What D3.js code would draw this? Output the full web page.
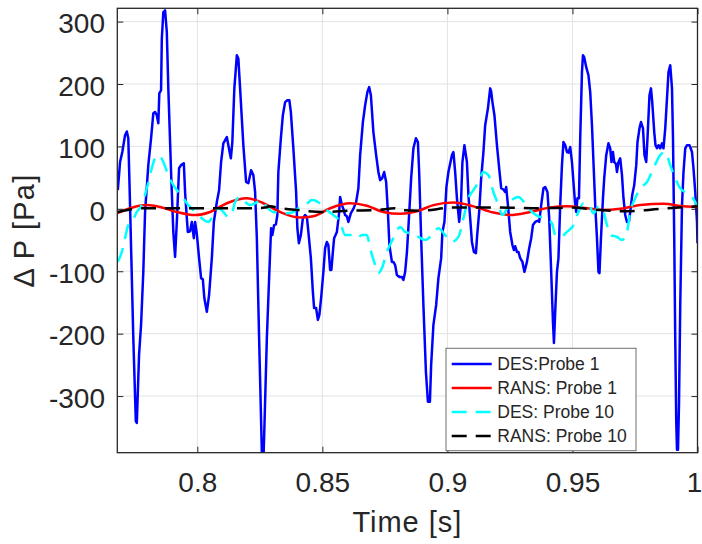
<!DOCTYPE html>
<html>
<head>
<meta charset="utf-8">
<script src="https://cdn.jsdelivr.net/npm/d3@7"></script>
<style>
    body { margin: 0; background: #fff; }
    text { font-family: 'Liberation Sans', Arial, sans-serif; fill: #262626; }
</style>
</head>
<body>
<svg id="chart" width="702" height="544"></svg>
<script>
// pressure difference traces, [time (s), delta P (Pa)]
const desProbe1 = [
    [0.7682,30],[0.7691,75],[0.7700,91],[0.7711,118],[0.7718,124],[0.7724,113],[0.7731,6],[0.7744,-207],
    [0.7754,-340],[0.7758,-343],[0.7767,-234],[0.7775,-186],[0.7784,-101],[0.7791,-5],[0.7804,70],[0.7815,113],
    [0.7824,153],[0.7831,155],[0.7838,150],[0.7844,137],[0.7848,185],[0.7855,190],[0.7858,273],[0.7864,315],
    [0.7871,318],[0.7878,283],[0.7884,193],[0.7895,59],[0.7904,-37],[0.7911,-77],[0.7918,-21],[0.7927,65],
    [0.7935,70],[0.7946,73],[0.7951,27],[0.7958,-15],[0.7962,-37],[0.7971,-36],[0.7978,-21],[0.7986,-47],
    [0.7991,-21],[0.7998,-40],[0.8007,-79],[0.8015,-111],[0.8022,-113],[0.8028,-143],[0.8038,-165],[0.8047,-138],
    [0.8058,-79],[0.8066,-21],[0.8078,11],[0.8087,30],[0.8095,75],[0.8104,105],[0.8118,115],[0.8124,102],
    [0.8134,81],[0.8140,107],[0.8148,193],[0.8158,246],[0.8164,241],[0.8171,193],[0.8184,102],[0.8195,43],
    [0.8204,41],[0.8215,62],[0.8224,54],[0.8231,27],[0.8238,-47],[0.8247,-207],[0.8258,-390],[0.8262,-430],
    [0.8267,-367],[0.8278,-207],[0.8288,-101],[0.8295,-31],[0.8300,-42],[0.8307,-26],[0.8314,-25],[0.8320,-10],
    [0.8324,59],[0.8334,113],[0.8342,150],[0.8351,171],[0.8360,174],[0.8368,174],[0.8374,155],[0.8384,97],
    [0.8395,27],[0.8400,-31],[0.8406,-55],[0.8414,-42],[0.8422,-15],[0.8431,-10],[0.8438,-13],[0.8444,-37],
    [0.8454,-79],[0.8462,-133],[0.8467,-159],[0.8475,-159],[0.8482,-178],[0.8488,-170],[0.8495,-143],[0.8504,-101],
    [0.8511,-63],[0.8518,-53],[0.8524,-58],[0.8531,-98],[0.8536,-98],[0.8542,-69],[0.8547,-47],[0.8558,-37],
    [0.8566,-10],[0.8571,19],[0.8578,6],[0.8584,0],[0.8591,-10],[0.8598,-12],[0.8604,-21],[0.8614,-7],
    [0.8624,0],[0.8635,11],[0.8644,33],[0.8651,86],[0.8662,139],[0.8671,166],[0.8680,187],[0.8687,195],
    [0.8694,182],[0.8704,123],[0.8715,86],[0.8724,59],[0.8731,46],[0.8739,49],[0.8747,59],[0.8755,43],
    [0.8762,-5],[0.8768,-58],[0.8778,-85],[0.8784,-85],[0.8791,-90],[0.8798,-106],[0.8808,-109],[0.8818,-109],
    [0.8824,-114],[0.8831,-101],[0.8838,-70],[0.8844,-30],[0.8851,20],[0.8855,49],[0.8864,97],[0.8874,113],
    [0.8882,107],[0.8887,59],[0.8895,-47],[0.8904,-154],[0.8914,-261],[0.8922,-309],[0.8930,-309],[0.8935,-250],
    [0.8944,-186],[0.8955,-154],[0.8964,-111],[0.8975,-79],[0.8980,-37],[0.8988,-21],[0.8996,35],[0.9004,59],
    [0.9018,86],[0.9024,91],[0.9031,59],[0.9038,17],[0.9047,-21],[0.9054,6],[0.9060,75],[0.9068,102],
    [0.9078,75],[0.9084,22],[0.9091,-15],[0.9098,-53],[0.9106,-69],[0.9114,-71],[0.9119,-42],[0.9127,-5],
    [0.9135,49],[0.9144,91],[0.9151,134],[0.9162,161],[0.9171,193],[0.9175,188],[0.9180,171],[0.9188,150],
    [0.9198,102],[0.9207,65],[0.9215,33],[0.9224,31],[0.9231,27],[0.9235,35],[0.9242,6],[0.9251,-37],
    [0.9260,-58],[0.9266,-66],[0.9271,-60],[0.9278,-69],[0.9284,-69],[0.9291,-79],[0.9300,-85],[0.9308,-101],
    [0.9318,-85],[0.9327,-63],[0.9335,-47],[0.9342,-26],[0.9351,-21],[0.9362,-19],[0.9367,-21],[0.9375,6],
    [0.9384,33],[0.9391,35],[0.9400,27],[0.9407,-15],[0.9415,-101],[0.9422,-181],[0.9426,-215],[0.9431,-165],
    [0.9438,-101],[0.9444,-79],[0.9451,6],[0.9458,70],[0.9464,107],[0.9471,102],[0.9478,91],[0.9484,90],
    [0.9491,99],[0.9498,75],[0.9504,43],[0.9510,11],[0.9515,-5],[0.9520,17],[0.9526,17],[0.9531,113],
    [0.9538,219],[0.9542,246],[0.9547,243],[0.9555,227],[0.9564,214],[0.9571,187],[0.9578,134],[0.9584,75],
    [0.9591,6],[0.9598,-47],[0.9604,-101],[0.9608,-103],[0.9614,-47],[0.9622,17],[0.9627,49],[0.9635,86],
    [0.9644,105],[0.9651,97],[0.9656,75],[0.9662,91],[0.9667,75],[0.9674,72],[0.9678,59],[0.9684,75],
    [0.9691,81],[0.9698,54],[0.9704,17],[0.9711,-10],[0.9718,-21],[0.9726,-20],[0.9731,-5],[0.9739,22],
    [0.9747,38],[0.9755,70],[0.9760,107],[0.9768,129],[0.9774,139],[0.9782,129],[0.9788,86],[0.9795,75],
    [0.9800,113],[0.9808,182],[0.9814,193],[0.9819,171],[0.9827,123],[0.9832,102],[0.9838,97],[0.9844,102],
    [0.9851,97],[0.9858,105],[0.9864,97],[0.9871,129],[0.9878,177],[0.9884,219],[0.9891,230],[0.9898,193],
    [0.9902,113],[0.9907,-47],[0.9911,-207],[0.9915,-341],[0.9918,-386],[0.9922,-386],[0.9926,-314],[0.9931,-154],
    [0.9938,6],[0.9944,59],[0.9951,97],[0.9958,102],[0.9968,102],[0.9978,91],[0.9984,65],[0.9991,27],
    [0.9998,-21],[1.0000,-55]
];
const ransProbe1 = [
    [0.7680,-7],[0.7731,1],[0.7798,6],[0.7851,3],[0.7918,-5],[0.7991,-10],[0.8051,-5],[0.8118,9],
    [0.8198,17],[0.8264,9],[0.8331,-5],[0.8411,-14],[0.8464,-12],[0.8531,1],[0.8611,9],[0.8678,5],
    [0.8744,-5],[0.8811,-8],[0.8878,-4],[0.8944,6],[0.9024,10],[0.9104,4],[0.9184,-6],[0.9251,-10],
    [0.9331,-5],[0.9411,2],[0.9478,4],[0.9558,1],[0.9624,-2],[0.9691,0],[0.9771,6],[0.9864,8],
    [0.9944,4],[1.0000,3]
];
const desProbe10 = [
    [0.7682,-85],[0.7698,-69],[0.7711,-47],[0.7724,-26],[0.7738,-21],[0.7758,-5],[0.7778,6],[0.7798,33],
    [0.7818,65],[0.7831,81],[0.7847,86],[0.7864,75],[0.7884,54],[0.7904,38],[0.7924,27],[0.7944,17],
    [0.7964,6],[0.7991,-5],[0.8018,-15],[0.8044,-21],[0.8064,-10],[0.8084,1],[0.8104,-5],[0.8124,-13],
    [0.8138,-8],[0.8151,11],[0.8171,19],[0.8191,11],[0.8211,6],[0.8231,9],[0.8258,14],[0.8278,3],
    [0.8304,-5],[0.8331,-6],[0.8358,-7],[0.8384,-5],[0.8411,3],[0.8438,8],[0.8458,14],[0.8478,12],
    [0.8498,6],[0.8518,-2],[0.8544,-10],[0.8571,-21],[0.8591,-42],[0.8611,-42],[0.8638,-47],[0.8658,-42],
    [0.8678,-42],[0.8691,-63],[0.8711,-90],[0.8724,-103],[0.8738,-95],[0.8758,-69],[0.8784,-47],[0.8811,-29],
    [0.8831,-37],[0.8858,-40],[0.8884,-45],[0.8911,-50],[0.8938,-42],[0.8964,-31],[0.8991,-42],[0.9018,-53],
    [0.9044,-45],[0.9064,-15],[0.9084,17],[0.9104,30],[0.9124,43],[0.9144,59],[0.9164,54],[0.9184,27],
    [0.9204,6],[0.9220,-10],[0.9238,0],[0.9258,14],[0.9284,19],[0.9304,12],[0.9324,1],[0.9344,-7],
    [0.9364,-12],[0.9391,-15],[0.9418,-23],[0.9431,-42],[0.9451,-45],[0.9478,-37],[0.9504,-26],[0.9524,-5],
    [0.9544,9],[0.9564,8],[0.9584,-7],[0.9604,3],[0.9618,2],[0.9638,-26],[0.9651,-42],[0.9678,-45],
    [0.9698,-50],[0.9718,-37],[0.9731,-5],[0.9751,17],[0.9771,33],[0.9798,43],[0.9824,65],[0.9851,86],
    [0.9871,91],[0.9891,70],[0.9911,49],[0.9931,33],[0.9958,25],[0.9978,19],[0.9998,6]
];
const ransProbe10 = [
    [0.7680,-5],[0.7731,-1],[0.7784,1],[0.8011,1],[0.8211,1],[0.8270,2],[0.8290,4],[0.8331,1],
    [0.8398,-2],[0.8504,-5],[0.8611,-3],[0.8718,-2],[0.8790,1],[0.8811,-2],[0.8891,-3],[0.9024,2],
    [0.9211,2],[0.9371,1],[0.9491,2],[0.9611,-2],[0.9718,-4],[0.9851,0],[1.0000,4]
];

const xTicks = [0.8, 0.85, 0.9, 0.95, 1];
const yTicks = [-300, -200, -100, 0, 100, 200, 300];

const seriesNames = ['DES:Probe 1', 'RANS: Probe 1', 'DES: Probe 10', 'RANS: Probe 10'];
const seriesData = [desProbe1, ransProbe1, desProbe10, ransProbe10];
const seriesColors = ['#0000ff', '#ff0000', '#00ffff', '#000000'];
const seriesDash = [null, null, '15,9', '15,9'];

const svg = d3.select('#chart');
const plot = {left: 117.3, right: 697.5, top: 8.3, bottom: 452.7};
const axisColor = '#262626';

const x = d3.scaleLinear().domain([0.768, 1.0]).range([plot.left, plot.right]);
const y = d3.scaleLinear().domain([-390.7, 321.3]).range([plot.bottom, plot.top]);

svg.append('rect').attr('width', 702).attr('height', 544).attr('fill', '#fff');

svg.append('clipPath').attr('id', 'plotClip')
    .append('rect')
    .attr('x', plot.left).attr('y', plot.top)
    .attr('width', plot.right - plot.left).attr('height', plot.bottom - plot.top);

// grid
const grid = svg.append('g').attr('stroke', '#e3e3e3').attr('stroke-width', 1);
grid.selectAll('.vgrid').data(xTicks).join('line')
    .attr('x1', d => x(d)).attr('x2', d => x(d))
    .attr('y1', plot.top).attr('y2', plot.bottom);
grid.selectAll('.hgrid').data(yTicks).join('line')
    .attr('x1', plot.left).attr('x2', plot.right)
    .attr('y1', d => y(d)).attr('y2', d => y(d));

// data lines
const lineGroup = svg.append('g').attr('clip-path', 'url(#plotClip)');
seriesData.forEach(function(data, i){
    const line = d3.line()
        .x(d => x(d[0]))
        .y(d => y(d[1]))
        .curve(i === 0 ? d3.curveLinear : d3.curveMonotoneX);
    lineGroup.append('path')
        .datum(data)
        .attr('d', line)
        .attr('fill', 'none')
        .attr('stroke', seriesColors[i])
        .attr('stroke-width', 2.5)
        .attr('stroke-linejoin', 'round')
        .attr('stroke-dasharray', seriesDash[i]);
});

// axes, ticks pointing inwards like matlab
const fmt = d => String(d);
const tickLen = 6;
const xAxis = svg.append('g')
    .attr('transform', 'translate(0,' + plot.bottom + ')')
    .call(d3.axisBottom(x).tickValues(xTicks).tickFormat(fmt)
        .tickSizeInner(-tickLen).tickSizeOuter(0).tickPadding(19.3));
const yAxis = svg.append('g')
    .attr('transform', 'translate(' + plot.left + ',0)')
    .call(d3.axisLeft(y).tickValues(yTicks).tickFormat(fmt)
        .tickSizeInner(-tickLen).tickSizeOuter(0).tickPadding(12.3));
const xTop = svg.append('g')
    .attr('transform', 'translate(0,' + plot.top + ')')
    .call(d3.axisTop(x).tickValues(xTicks).tickFormat('')
        .tickSizeInner(-tickLen).tickSizeOuter(0));
const yRight = svg.append('g')
    .attr('transform', 'translate(' + plot.right + ',0)')
    .call(d3.axisRight(y).tickValues(yTicks).tickFormat('')
        .tickSizeInner(-tickLen).tickSizeOuter(0));

[xAxis, yAxis, xTop, yRight].forEach(function(g){
    g.select('.domain').remove();
    g.selectAll('line').attr('stroke', axisColor);
    g.selectAll('text')
        .attr('fill', axisColor)
        .style('font-size', '28px')
        .style('font-family', "'Liberation Sans', Arial, sans-serif");
});
yAxis.selectAll('text').attr('dy', '0.4em');
// keep the last x label inside the page
xAxis.selectAll('.tick').filter(d => d === 1).select('text').attr('x', -3.5);

svg.append('rect')
    .attr('x', plot.left).attr('y', plot.top)
    .attr('width', plot.right - plot.left).attr('height', plot.bottom - plot.top)
    .attr('fill', 'none')
    .attr('stroke', axisColor)
    .attr('stroke-width', 1.3);

// axis labels
svg.append('text')
    .attr('x', (plot.left + plot.right) / 2)
    .attr('y', 532.3)
    .attr('text-anchor', 'middle')
    .style('font-size', '29px')
    .style('letter-spacing', '1px')
    .text('Time [s]');

svg.append('text')
    .attr('transform', 'translate(33.5,' + (plot.top + plot.bottom) / 2 + ') rotate(-90)')
    .attr('text-anchor', 'middle')
    .style('font-size', '29px')
    .style('letter-spacing', '1.2px')
    .text('\u0394 P [Pa]');

// legend
const legend = svg.append('g').attr('transform', 'translate(446,348.3)');
legend.append('rect')
    .attr('width', 190).attr('height', 102.4)
    .attr('fill', '#fff')
    .attr('stroke', '#6e6e6e')
    .attr('stroke-width', 1);
seriesNames.forEach(function(name, i){
    const rowY = 15.7 + i * 24;
    legend.append('line')
        .attr('x1', 5.7).attr('x2', 45.7)
        .attr('y1', rowY).attr('y2', rowY)
        .attr('stroke', seriesColors[i])
        .attr('stroke-width', 2.5)
        .attr('stroke-dasharray', seriesDash[i]);
    legend.append('text')
        .attr('x', 51.3)
        .attr('y', rowY)
        .attr('dy', '0.35em')
        .style('font-size', '17.5px')
        .text(name);
});
</script>
</body>
</html>
